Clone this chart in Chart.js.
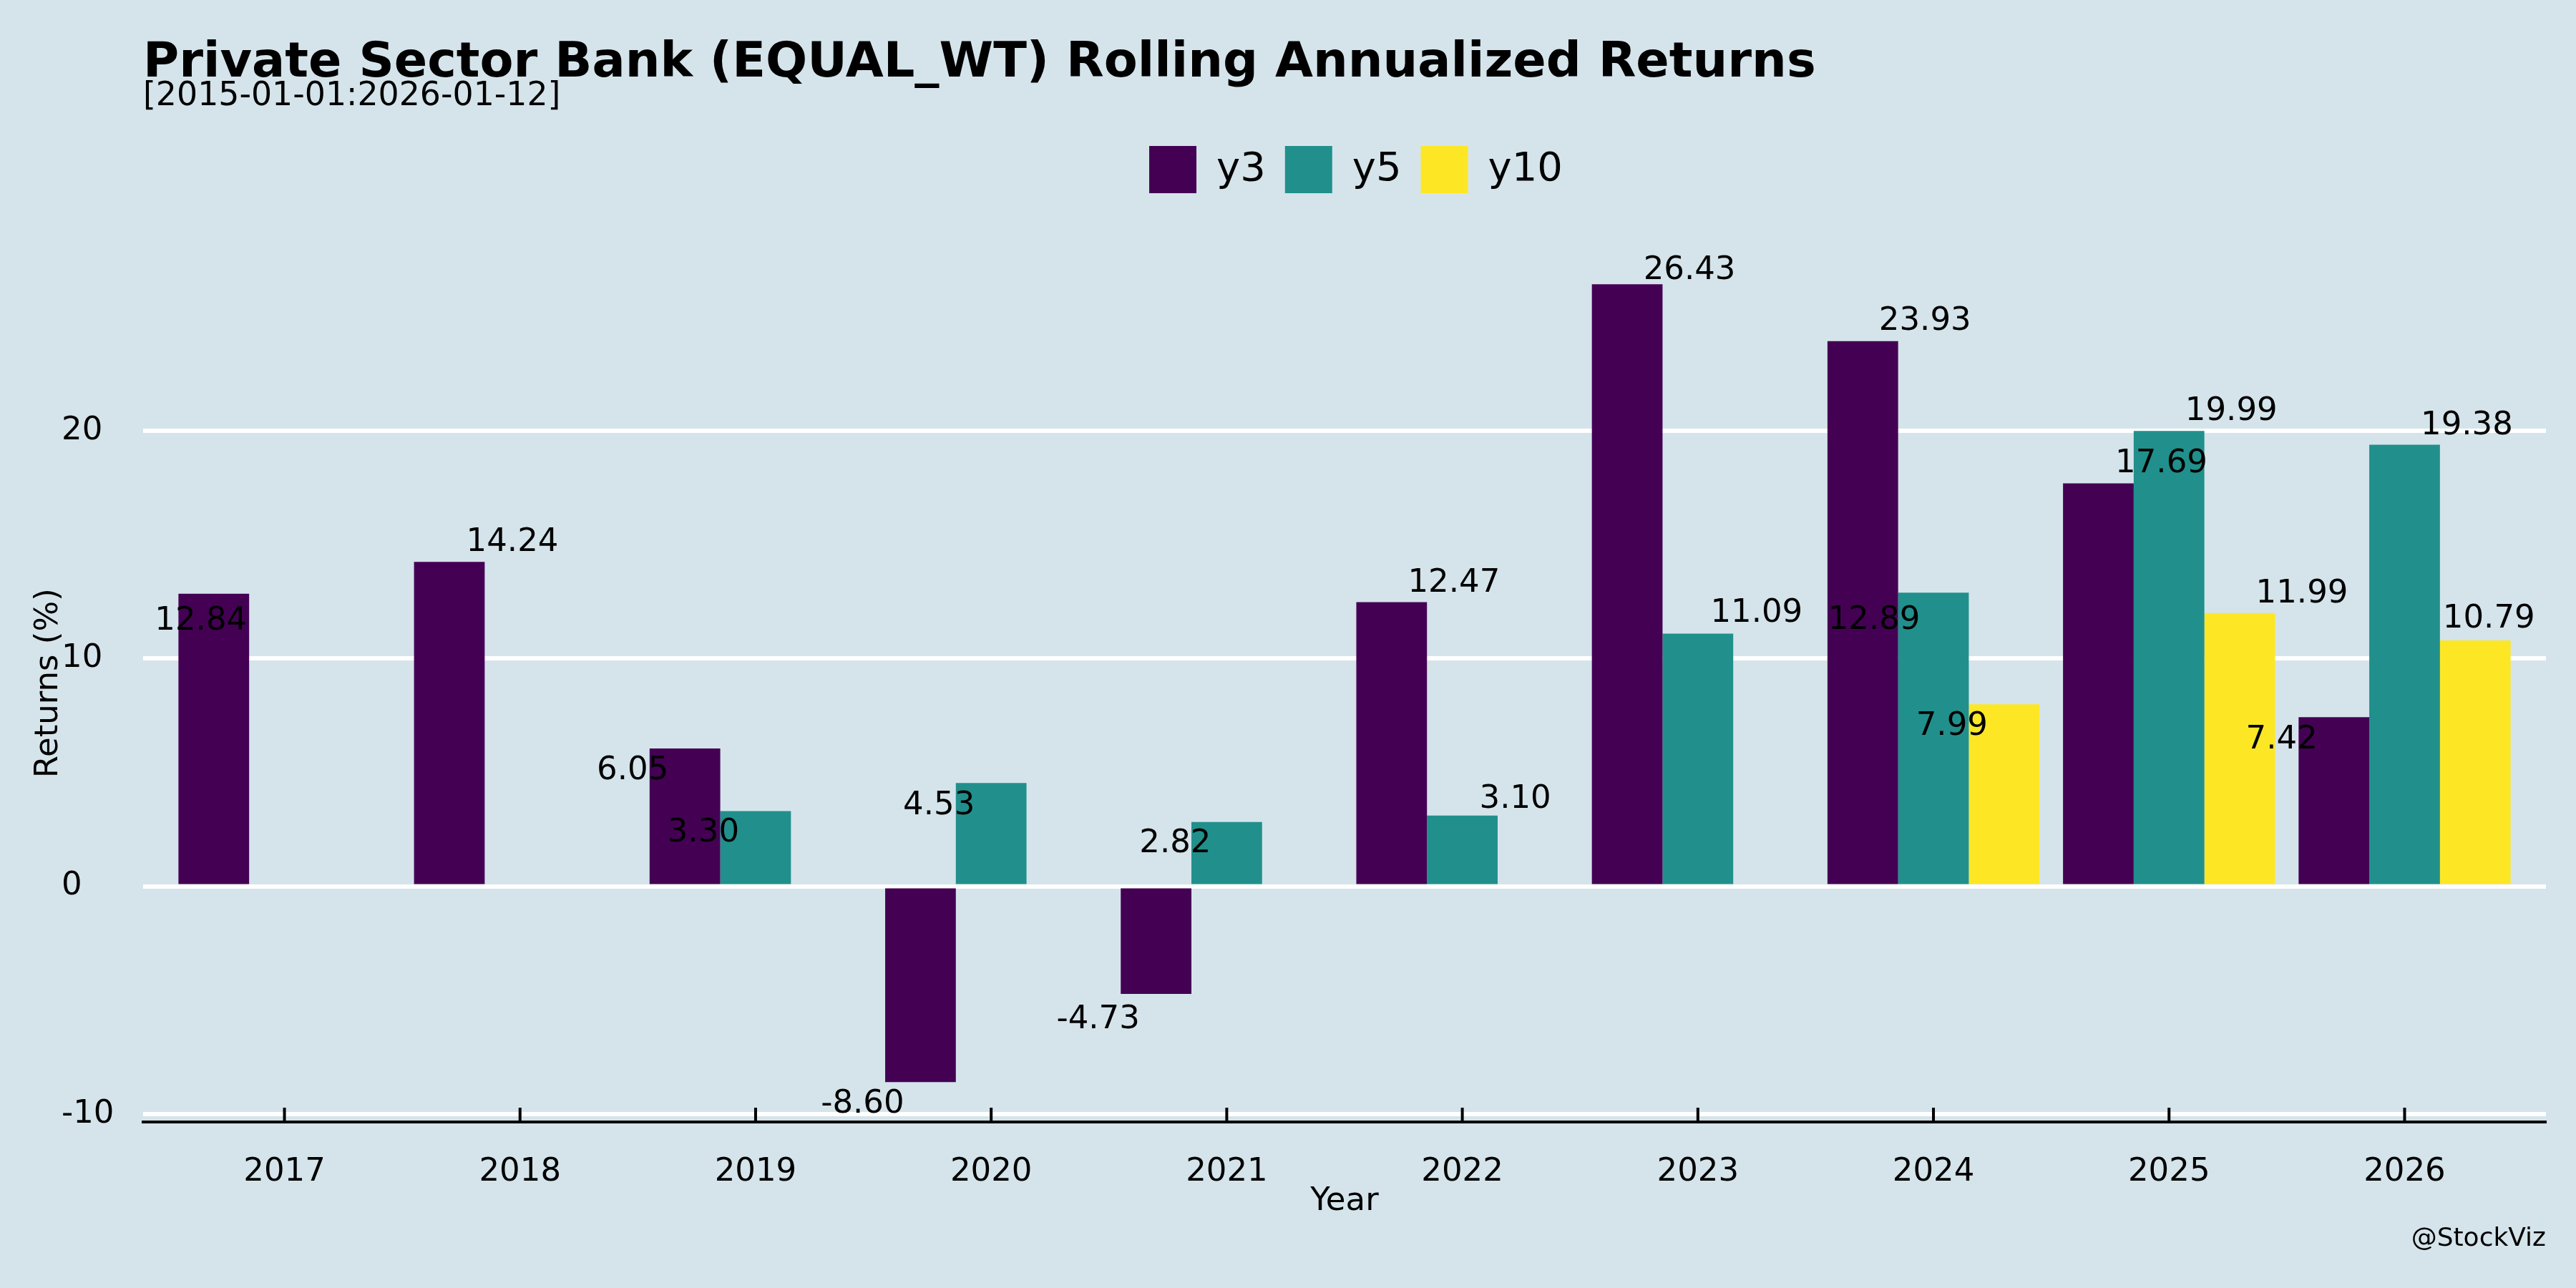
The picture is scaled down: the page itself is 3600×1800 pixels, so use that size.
<!DOCTYPE html>
<html>
<head>
<meta charset="utf-8">
<script src="https://cdn.jsdelivr.net/npm/chart.js@4.4.1/dist/chart.umd.min.js"></script>
<style>
  html, body { margin: 0; padding: 0; background: #d5e4eb; }
  canvas { display: block; }
</style>
</head>
<body>
<canvas id="returns" width="3600" height="1800" style="width:3600px;height:1800px"></canvas>
<script>
// ---- data ----
var years = [2017, 2018, 2019, 2020, 2021, 2022, 2023, 2024, 2025, 2026];
var y3  = [12.84, 14.24, 6.05, -8.60, -4.73, 12.47, 26.43, 23.93, 17.69, 7.42];
var y5  = [null, null, 3.30, 4.53, 2.82, 3.10, 11.09, 12.89, 19.99, 19.38];
var y10 = [null, null, null, null, null, null, null, 7.99, 11.99, 10.79];
var yTicks = [-10, 0, 10, 20];

var chartTitle = 'Private Sector Bank (EQUAL_WT) Rolling Annualized Returns';
var chartSubtitle = '[2015-01-01:2026-01-12]';

// where each value label sits relative to the end of its bar (px)
var nudges = [
  [[-18, 34], [88, -32], [-73, 27], [-81, 26], [-81, 31], [87, -31], [87, -24], [87, -32], [88, -32], [-73, 27]],
  [null, null, [-73, 26], [-73, 27], [-72, 26], [74, -27], [82, -33], [-83, 34], [87, -32], [87, -31]],
  [null, null, null, null, null, null, null, [-73, 26], [87, -31], [19, -34]]
];

var BG = '#d5e4eb';
var FONT = '"DejaVu Sans", sans-serif';
Chart.defaults.font.family = FONT;
Chart.defaults.color = '#000';

// ---- extra drawing: background, titles, value labels, inward ticks ----
var decorations = {
  id: 'decorations',
  beforeLayout: function (chart) {
    // keep the legend band a fixed height so the panel starts where it should
    var lg = chart.legend;
    if (lg && !lg._fixedFit) {
      var fit = lg.fit;
      lg.fit = function () { fit.call(this); this.height = 164.5; };
      lg._fixedFit = true;
    }
  },
  afterLayout: function (chart) {
    // nudge legend a little right, like the original
    var lg = chart.legend;
    if (lg) { lg.left += 16; lg.right += 16; }
  },
  beforeDraw: function (chart) {
    var ctx = chart.ctx;
    ctx.save();
    ctx.fillStyle = BG;
    ctx.fillRect(0, 0, chart.width, chart.height);
    ctx.restore();
  },
  afterDatasetsDraw: function (chart) {
    var ctx = chart.ctx;
    ctx.save();
    ctx.font = '45px ' + FONT;
    ctx.fillStyle = '#000';
    ctx.textAlign = 'center';
    ctx.textBaseline = 'alphabetic';
    chart.data.datasets.forEach(function (ds, di) {
      var meta = chart.getDatasetMeta(di);
      ds.data.forEach(function (v, i) {
        if (v === null) return;
        var el = meta.data[i];
        var n = nudges[di][i];
        ctx.fillText(v.toFixed(2), el.x + n[0], el.y + n[1] + 0.3645 * 45);
      });
    });
    ctx.restore();
  },
  afterDraw: function (chart) {
    var ctx = chart.ctx;
    var area = chart.chartArea;
    var xs = chart.scales.x;
    ctx.save();

    // tick marks pointing up into the panel
    ctx.strokeStyle = '#000';
    ctx.lineWidth = 4;
    years.forEach(function (y) {
      var px = xs.getPixelForValue(y);
      ctx.beginPath();
      ctx.moveTo(px, area.bottom - 20);
      ctx.lineTo(px, area.bottom);
      ctx.stroke();
    });

    ctx.fillStyle = '#000';
    ctx.textBaseline = 'alphabetic';

    ctx.textAlign = 'left';
    ctx.font = 'bold 68.5px ' + FONT;
    ctx.fillText(chartTitle, 200, 107);
    ctx.font = '45.8px ' + FONT;
    ctx.fillText(chartSubtitle, 200, 147);

    ctx.textAlign = 'center';
    ctx.font = '45px ' + FONT;
    ctx.fillText('Year', (area.left + area.right) / 2, 1691);

    ctx.save();
    ctx.translate(80, (area.top + area.bottom) / 2);
    ctx.rotate(-Math.PI / 2);
    ctx.fillText('Returns (%)', 0, 0);
    ctx.restore();

    ctx.textAlign = 'right';
    ctx.font = '36px ' + FONT;
    ctx.fillText('@StockViz', 3558, 1741);

    ctx.restore();
  }
};

var ctx = document.getElementById('returns').getContext('2d');
var chart = new Chart(ctx, {
  type: 'bar',
  data: {
    labels: years,
    datasets: [
      { label: 'y3', data: y3, backgroundColor: '#440154', borderWidth: 0 },
      { label: 'y5', data: y5, backgroundColor: '#21908C', borderWidth: 0 },
      { label: 'y10', data: y10, backgroundColor: '#FDE725', borderWidth: 0 }
    ]
  },
  options: {
    responsive: false,
    devicePixelRatio: 1,
    animation: false,
    datasets: { bar: { categoryPercentage: 0.9, barPercentage: 1.0 } },
    layout: { padding: { top: 177, left: 86, right: 42, bottom: 0 } },
    plugins: {
      legend: {
        position: 'top',
        fullSize: false,
        labels: { font: { size: 56 }, color: '#000', boxWidth: 66, boxHeight: 66, padding: 27 }
      },
      title: { display: false },
      tooltip: { enabled: false }
    },
    scales: {
      x: {
        type: 'linear',
        min: 2016.4,
        max: 2026.6,
        offset: false,
        grid: { display: false, drawTicks: false },
        border: { display: true, color: '#000', width: 4 },
        afterBuildTicks: function (s) { s.ticks = years.map(function (y) { return { value: y }; }); },
        afterFit: function (s) { s.height = 232; },
        ticks: {
          font: { size: 45 }, color: '#000', padding: 43, maxRotation: 0, autoSkip: false,
          callback: function (v) { return String(v); }
        }
      },
      y: {
        min: -10.35,
        max: 28.18,
        grid: { color: '#ffffff', lineWidth: 6, drawTicks: false },
        border: { display: false },
        afterBuildTicks: function (s) { s.ticks = yTicks.map(function (v) { return { value: v }; }); },
        afterFit: function (s) { s.width = 114; },
        ticks: {
          crossAlign: 'far', padding: 0, font: { size: 45 }, color: '#000',
          callback: function (v) { return String(v); }
        }
      }
    }
  },
  plugins: [decorations]
});
</script>
</body>
</html>
